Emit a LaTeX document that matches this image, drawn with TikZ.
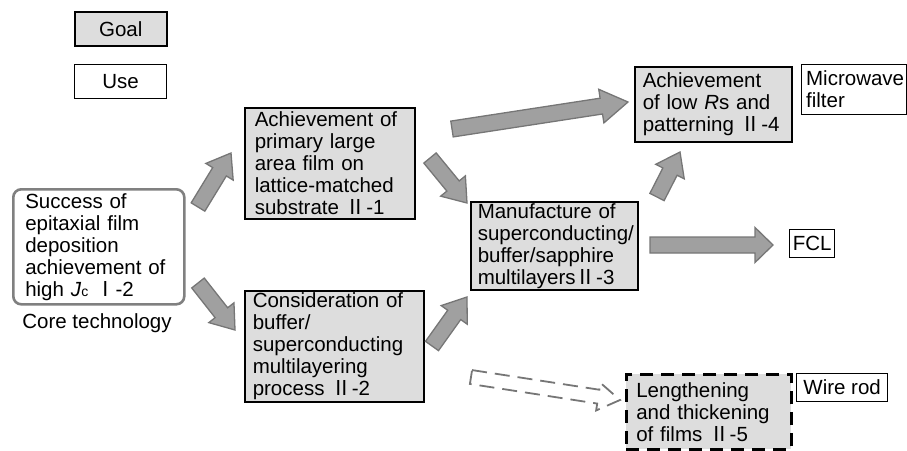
\documentclass[tikz,border=0pt]{standalone}
\usepackage{fontspec}
\setmainfont{Liberation Sans}
\newfontfamily\cjkfont{Noto Sans CJK JP}
\usetikzlibrary{calc}
\definecolor{boxgray}{RGB}{221,221,221}
\definecolor{arrfill}{RGB}{160,160,160}
\definecolor{arrdraw}{RGB}{118,118,118}
\definecolor{corecol}{RGB}{128,128,128}
\newcommand\rn[1]{{\cjkfont #1}}
% #1 style, #2 from, #3 to, #4 shaft half width, #5 head half width, #6 head length
\newcommand\blockarrow[6]{%
  \coordinate (ba-h) at ($(#3)!#6!(#2)$);
  \draw[#1] ($(#2)!#4!90:(#3)$) -- ($(ba-h)!#4!90:(#3)$) -- ($(ba-h)!#5!90:(#3)$)
    -- (#3) -- ($(ba-h)!#5!-90:(#3)$) -- ($(ba-h)!#4!-90:(#3)$) -- ($(#2)!#4!-90:(#3)$) -- cycle;}
\begin{document}
\begin{tikzpicture}[x=1pt,y=-1pt,
  txt/.style={font={\fontsize{20.5}{22}\selectfont\hyphenpenalty=10000\exhyphenpenalty=10000\hbadness=10000}, align=left, inner ysep=0pt},
  goalbox/.style={txt, draw=black, line width=1.5pt, fill=boxgray, anchor=north west},
  usebox/.style={txt, draw=black, line width=1.3pt, fill=white, anchor=north west},
  corebox/.style={txt, draw=corecol, line width=2.6pt, rounded corners=8pt, fill=white, anchor=north west},
  dashbox/.style={goalbox, line width=2.6pt, dash pattern=on 13pt off 8pt},
  blk/.style={fill=arrfill, draw=arrdraw, line width=1.3pt, line join=miter},
  dblk/.style={draw=arrdraw, line width=1.8pt, dash pattern=on 15pt off 8pt, fill=white}]
\useasboundingbox (0,0) rectangle (907,450);

% legend
\node[goalbox, minimum width=92pt, minimum height=34pt, inner xsep=0pt] (goal) at (74,11) {Goal};
\node[usebox, minimum width=92pt, minimum height=34pt, inner xsep=0pt] (use) at (74,64) {Use};

% core
\node[corebox, text width=147pt, inner xsep=12pt, minimum height=115pt] (core) at (12,188)
  {Success of\\epitaxial film\\deposition\\achievement of\\high \textit{J}{\fontsize{14}{14}\selectfont c} \rn{Ⅰ}-2};
\node[txt] (coretech) at (97,323) {Core technology};

% goals
\node[goalbox, text width=150pt, inner xsep=10pt, minimum height=111pt] (s1) at (244,107)
  {Achievement of\\primary large\\area film on\\lattice-matched\\substrate \rn{Ⅱ}-1};
\node[goalbox, text width=163pt, inner xsep=8pt, minimum height=111pt] (s2) at (244,290)
  {Consideration of\\buffer/\\superconducting\\multilayering\\process \rn{Ⅱ}-2};
\node[goalbox, text width=153pt, inner xsep=7pt, minimum height=88pt] (s3) at (470,201)
  {Manufacture of\\superconducting/\\buffer/sapphire\\multilayers\rn{Ⅱ}-3};
\node[goalbox, text width=141pt, inner xsep=8pt, minimum height=75pt] (s4) at (634,66)
  {Achievement\\of low \textit{R}s and\\patterning \rn{Ⅱ}-4};
\node[dashbox, text width=145pt, inner xsep=10pt, minimum height=75pt] (s5) at (625,373)
  {Lengthening\\and thickening\\of films \rn{Ⅱ}-5};

% uses
\node[usebox, text width=96pt, inner xsep=4.5pt, minimum height=50pt] (mw) at (801,64) {Microwave\\filter};
\node[usebox, minimum width=45pt, minimum height=28pt, inner xsep=0pt] (fcl) at (789,229) {FCL};
\node[usebox, minimum width=91pt, minimum height=28pt, inner xsep=0pt] (wire) at (796,373) {Wire rod};

% arrow end points
\coordinate (a1s) at (198,207); \coordinate (a1e) at (231,153);
\coordinate (a2s) at (198,283); \coordinate (a2e) at (235,330);
\coordinate (a3s) at (430,158); \coordinate (a3e) at (467,203);
\coordinate (a4s) at (452,129); \coordinate (a4e) at (628,102);
\coordinate (a5s) at (657,197); \coordinate (a5e) at (680,152);
\coordinate (a6s) at (650,245); \coordinate (a6e) at (773,245);
\coordinate (a7s) at (432,346); \coordinate (a7e) at (467,297);
\coordinate (a8s) at (471,377); \coordinate (a8e) at (620,400);

\blockarrow{blk}{a1s}{a1e}{8pt}{16pt}{22pt}
\blockarrow{blk}{a2s}{a2e}{8pt}{16pt}{22pt}
\blockarrow{blk}{a3s}{a3e}{8pt}{16pt}{22pt}
\blockarrow{blk}{a4s}{a4e}{8pt}{17pt}{27pt}
\blockarrow{blk}{a5s}{a5e}{8pt}{16pt}{22pt}
\blockarrow{blk}{a6s}{a6e}{8pt}{17.5pt}{18pt}
\blockarrow{blk}{a7s}{a7e}{8pt}{16pt}{22pt}
\blockarrow{dblk}{a8s}{a8e}{7pt}{14pt}{22pt}
\end{tikzpicture}
\end{document}
